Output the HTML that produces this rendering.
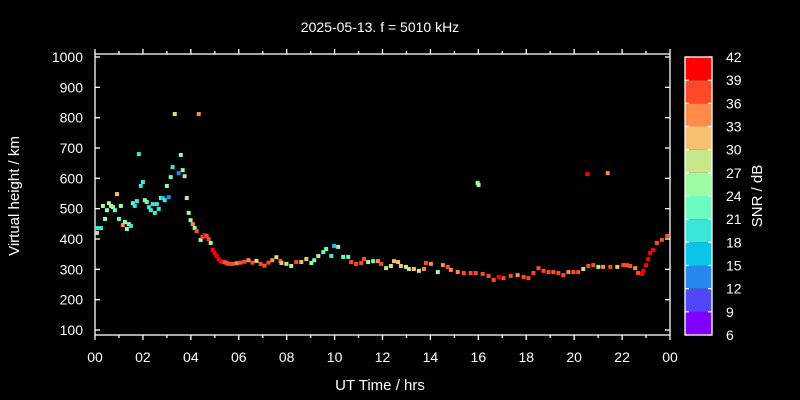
<!DOCTYPE html>
<html><head><meta charset="utf-8"><style>
html,body{margin:0;padding:0;background:#000;}
svg{display:block;font-family:"Liberation Sans",sans-serif;}
</style></head><body>
<svg id="chart" width="800" height="400" viewBox="0 0 800 400">
<text x="380" y="32" fill="#fff" font-size="14" text-anchor="middle">2025-05-13. f = 5010 kHz</text>
<text x="380" y="390" fill="#fff" font-size="15" text-anchor="middle">UT Time / hrs</text>
<text transform="translate(19,196) rotate(-90)" fill="#fff" font-size="15" text-anchor="middle">Virtual height / km</text>
<text transform="translate(762,196) rotate(-90)" fill="#fff" font-size="15" text-anchor="middle">SNR / dB</text>
<g id="axes"></g>
<g id="marks"></g>
<g id="cbar"></g>
</svg>
<script>
const times=[0.12,0.08,0.25,0.42,0.33,0.50,0.58,0.67,0.75,0.83,0.92,1.00,1.08,1.16,1.25,1.33,1.41,1.50,1.58,1.66,1.75,1.83,1.91,2.00,2.08,2.16,2.25,2.33,2.41,2.50,2.58,2.66,2.75,2.83,2.91,3.00,3.08,3.16,3.24,3.33,3.49,3.58,3.66,3.74,3.83,3.91,3.99,4.08,4.16,4.24,4.33,4.41,4.49,4.58,4.66,4.74,4.83,4.91,4.99,5.07,5.16,5.24,5.32,5.41,5.49,5.57,5.74,5.91,6.07,6.24,6.41,6.57,6.74,6.91,7.07,7.24,7.40,7.57,7.74,7.78,7.99,8.19,8.40,8.61,8.82,9.03,9.15,9.32,9.53,9.65,9.86,9.98,10.15,10.36,10.57,10.69,10.90,11.11,11.23,11.40,11.61,11.81,11.94,12.15,12.35,12.48,12.65,12.77,12.98,13.10,13.31,13.52,13.73,13.81,14.02,14.31,14.52,14.73,14.85,15.14,15.39,15.68,15.89,15.97,16.01,16.18,16.43,16.64,16.85,17.05,17.35,17.64,17.89,18.09,18.30,18.51,18.72,18.93,19.13,19.34,19.55,19.76,19.97,20.17,20.38,20.55,20.59,20.80,21.01,21.21,21.40,21.51,21.80,22.05,22.21,22.34,22.55,22.67,22.84,22.88,23.00,23.09,23.17,23.29,23.45,23.66,23.88];
const heights=[436,420,436,466,509,495,518,509,505,495,548,466,509,446,456,433,449,443,518,509,525,680,575,588,528,522,505,495,515,486,515,499,535,535,528,575,538,604,637,812,617,677,627,607,535,486,462,449,436,426,812,397,407,413,410,400,387,364,354,344,334,327,324,324,321,318,318,320,322,325,330,322,328,318,312,322,330,340,328,321,318,311,324,324,334,321,330,344,357,367,344,377,374,341,341,324,318,321,334,324,327,327,318,304,311,327,324,311,308,301,301,295,301,321,318,291,314,308,298,291,288,288,288,585,578,285,278,265,275,271,278,281,275,271,288,304,295,291,291,288,281,291,291,291,301,614,311,314,308,308,617,308,308,314,314,311,304,288,285,295,314,334,354,364,387,397,410,416];
const snrs=[18,28,20,24,24,26,26,28,26,22,32,22,24,33,26,26,24,20,22,20,20,20,18,18,26,22,20,20,20,20,20,18,22,16,20,24,14,22,20,28,13,24,26,28,28,26,24,34,24,36,35,26,38,40,38,38,26,40,40,40,40,40,39,38,38,38,37,34,38,37,34,38,28,36,38,36,33,28,38,30,27,28,36,32,30,26,22,27,22,22,18,17,25,22,23,37,38,36,38,26,22,33,38,28,29,32,30,30,27,28,32,27,33,36,34,26,34,36,33,33,36,38,38,24,24,36,38,37,40,36,36,34,38,37,36,37,38,36,36,37,36,33,36,36,28,39,36,36,28,33,33,36,30,36,36,36,34,36,40,40,40,40,40,40,38,37,36];
const yTicks=[100,200,300,400,500,600,700,800,900,1000];
const xTickLabels=["00","02","04","06","08","10","12","14","16","18","20","22","00"];
const cbarLevels=[6,9,12,15,18,21,24,27,30,33,36,39,42];
const cbarColors=["#8000ff","#5048f8","#2488f0","#0cc4e8","#3ce6d8","#6cfcc0","#9cfca4","#c8e68a","#f5c070","#ff8a4a","#ff4a2a","#ff0000"];

const NS="http://www.w3.org/2000/svg";
const X0=95,X1=670,Y0=335,Y1=54;
const xs=t=>X0+t*(X1-X0)/24;
const ys=h=>57+(1000-h)*0.30333;
function mk(tag,attrs,parent){const e=document.createElementNS(NS,tag);for(const k in attrs)e.setAttribute(k,attrs[k]);parent.appendChild(e);return e;}
function col(s){let i=Math.floor((s-6)/3);if(i<0)i=0;if(i>11)i=11;return cbarColors[i];}
const ax=document.getElementById('axes');
let fr=mk('rect',{x:X0,y:Y1,width:X1-X0,height:Y0-Y1,fill:'none',stroke:'#fff','stroke-width':1.3},ax);


yTicks.forEach(v=>{const y=ys(v);
 mk('line',{x1:X0,x2:X0+5,y1:y,y2:y,stroke:'#fff','stroke-width':1.3},ax);
 mk('line',{x1:X1,x2:X1-5,y1:y,y2:y,stroke:'#fff','stroke-width':1.3},ax);
 const t=mk('text',{x:X0-12,y:y+5,fill:'#fff','font-size':14,'text-anchor':'end'},ax);t.textContent=v;
 
 
});
for(let h=0;h<=24;h++){const x=xs(h);const L=h%2===0?5:3;
 mk('line',{x1:x,x2:x,y1:Y0,y2:Y0+L,stroke:'#fff','stroke-width':1.3},ax);
 mk('line',{x1:x,x2:x,y1:Y1,y2:Y1-L,stroke:'#fff','stroke-width':1.3},ax);}
xTickLabels.forEach((lab,i)=>{const t=mk('text',{x:xs(i*2),y:362,fill:'#fff','font-size':14,'text-anchor':'middle'},ax);t.textContent=lab;
 
 
});
const mg=document.getElementById('marks');
times.forEach((t,i)=>{if(heights[i]===undefined)return;const r=mk('rect',{x:xs(t)-2,y:ys(heights[i])-2,width:4,height:4,fill:col(snrs[i])},mg);
 
 
});
const cb=document.getElementById('cbar');
const CX=685,CW=27,CT=57,CB=335,seg=(CB-CT)/12;
cbarColors.forEach((c,i)=>{const r=mk('rect',{x:CX,y:CB-(i+1)*seg,width:CW,height:seg,fill:c},cb);
 
 
});
mk('rect',{x:CX,y:CT,width:CW,height:CB-CT,fill:'none',stroke:'#fff','stroke-width':1.3},cb);
cbarLevels.forEach((v,i)=>{const y=CB-i*seg;
 mk('line',{x1:CX,x2:CX+4,y1:y,y2:y,stroke:'#fff','stroke-width':1.2},cb);
 mk('line',{x1:CX+CW,x2:CX+CW-4,y1:y,y2:y,stroke:'#fff','stroke-width':1.2},cb);
 const t=mk('text',{x:726,y:y+5,fill:'#fff','font-size':14},cb);t.textContent=v;
 
 
});
</script>
</body></html>
